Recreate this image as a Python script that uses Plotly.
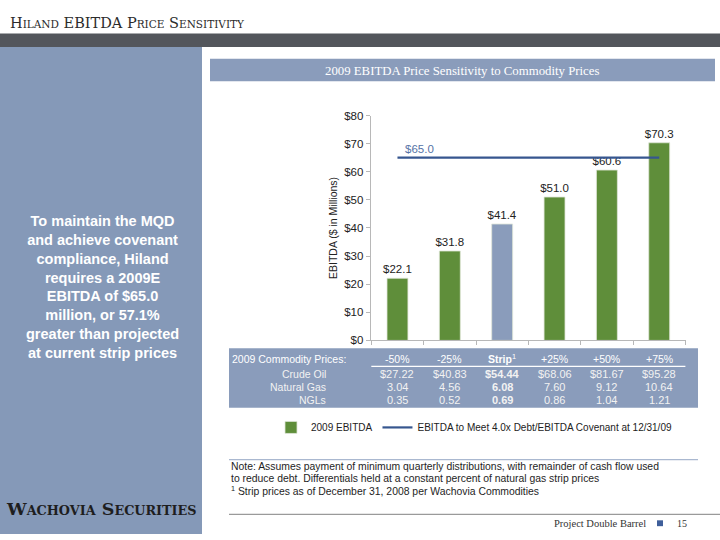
import plotly.graph_objects as go

# ---------------- data ----------------
categories = ["-50%", "-25%", "Strip", "+25%", "+50%", "+75%"]
ebitda = [22.1, 31.8, 41.4, 51.0, 60.6, 70.3]
covenant = 65.0
strip_index = 2
crude_oil = ["$27.22", "$40.83", "$54.44", "$68.06", "$81.67", "$95.28"]
natural_gas = ["3.04", "4.56", "6.08", "7.60", "9.12", "10.64"]
ngls = ["0.35", "0.52", "0.69", "0.86", "1.04", "1.21"]
row_labels = ["Crude Oil", "Natural Gas", "NGLs"]
y_ticks = [0, 10, 20, 30, 40, 50, 60, 70, 80]
y_tick_labels = ["$0", "$10", "$20", "$30", "$40", "$50", "$60", "$70", "$80"]

W, H = 720, 540
GREEN = "#5f8e3a"
BLUEGRAY = "#8a9cbb"
LINE_BLUE = "#36568f"
SANS = "Liberation Sans, Arial, sans-serif"
SERIF = "Liberation Serif, Times New Roman, serif"
WIDE_SERIF = "DejaVu Serif, serif"


def px(x):
    return x / W


def py(y):
    return 1 - y / H


def smallcaps(text, big, small):
    out = []
    run, run_small = "", None
    for ch in text:
        is_small = ch.islower()
        if run_small is None:
            run_small = is_small
        if is_small != run_small:
            out.append((run, run_small))
            run, run_small = "", is_small
        run += ch.upper()
    if run:
        out.append((run, run_small))
    html = ""
    for r, s in out:
        if s:
            html += f'<span style="font-size:{small}px">{r}</span>'
        else:
            html += r
    return html


bar_colors = [BLUEGRAY if i == strip_index else GREEN for i in range(len(categories))]

fig = go.Figure()
fig.add_trace(go.Bar(
    x=categories, y=ebitda, name="2009 EBITDA",
    marker=dict(color=bar_colors, line=dict(color="#dfe6d8", width=0.8)),
    width=0.4,
    text=[f"${v:.1f}" for v in ebitda], textposition="outside",
    constraintext="none",
    textfont=dict(family=SANS, size=11.5, color="#222"),
    cliponaxis=False,
))
fig.add_trace(go.Scatter(
    x=[categories[0], categories[-1]], y=[covenant, covenant], mode="lines",
    name="EBITDA to Meet 4.0x Debt/EBITDA Covenant at 12/31/09",
    line=dict(color=LINE_BLUE, width=2.2),
))

shapes = []
annotations = []

# background pieces
shapes.append(dict(type="rect", xref="paper", yref="paper", x0=0, x1=1,
                   y0=py(42), y1=py(28), fillcolor="#53565c", line_width=0, layer="below"))
shapes.append(dict(type="rect", xref="paper", yref="paper", x0=0, x1=px(202),
                   y0=0, y1=py(42), fillcolor="#8599b8", line_width=0, layer="below"))
shapes.append(dict(type="rect", xref="paper", yref="paper", x0=px(210), x1=px(715),
                   y0=py(77), y1=py(54), fillcolor=BLUEGRAY, line_width=0, layer="below"))
# table background
shapes.append(dict(type="rect", xref="paper", yref="paper", x0=px(229), x1=px(698),
                   y0=py(411), y1=py(350), fillcolor=BLUEGRAY, line_width=0, layer="below"))
# underline under table header
shapes.append(dict(type="line", xref="x", yref="paper", x0=-0.5, x1=len(categories) - 0.5,
                   y0=py(368.5), y1=py(368.5), line=dict(color="white", width=1.2)))
# separator lines
shapes.append(dict(type="line", xref="paper", yref="paper", x0=px(229), x1=px(698),
                   y0=py(464), y1=py(464), line=dict(color="#aab8d0", width=1.2)))
shapes.append(dict(type="line", xref="paper", yref="paper", x0=px(229), x1=1,
                   y0=py(520), y1=py(520), line=dict(color="#9a9a9a", width=1.2)))
# footer square
shapes.append(dict(type="rect", xref="paper", yref="paper", x0=px(657), x1=px(663),
                   y0=py(532), y1=py(526), fillcolor="#3f5f9a", line_width=0))

# title
annotations.append(dict(text=smallcaps("Hiland EBITDA Price Sensitivity", 14.5, 10.5),
                        xref="paper", yref="paper", x=px(8), y=py(17), xanchor="left",
                        yanchor="middle", showarrow=False,
                        font=dict(family=WIDE_SERIF, size=14.5, color="#2b2b2b")))
# logo
annotations.append(dict(text="<b>" + smallcaps("Wachovia Securities", 17.5, 12.8) + "</b>",
                        xref="paper", yref="paper", x=px(101), y=py(514), xanchor="center",
                        yanchor="middle", showarrow=False,
                        font=dict(family=WIDE_SERIF, size=17.5, color="#1e1e1e")))
# header box text
annotations.append(dict(text="2009 EBITDA Price Sensitivity to Commodity Prices",
                        xref="paper", yref="paper", x=px(462), y=py(66), xanchor="center",
                        yanchor="middle", showarrow=False,
                        font=dict(family=SERIF, size=12.8, color="white")))
# left panel text
left_lines = ["To maintain the MQD", "and achieve covenant", "compliance, Hiland",
              "requires a 2009E", "EBITDA of $65.0", "million, or 57.1%",
              "greater than projected", "at current strip prices"]
annotations.append(dict(text="<b>" + "<br>".join(left_lines) + "</b>",
                        xref="paper", yref="paper", x=px(102), y=py(287), xanchor="center",
                        yanchor="middle", showarrow=False, align="center",
                        font=dict(family=SANS, size=14.5, color="white")))

# covenant label
annotations.append(dict(text=f"${covenant:.1f}", xref="x", yref="y", x=categories[0], y=covenant,
                        xanchor="left", yanchor="middle", xshift=6, yshift=9, showarrow=False,
                        font=dict(family=SANS, size=11.5, color="#5573a6")))

# table
row_y = [376.5, 389.5, 403]
annotations.append(dict(text="2009 Commodity Prices:", xref="paper", yref="paper",
                        x=px(230), y=py(361), xanchor="left", yanchor="middle", showarrow=False,
                        font=dict(family=SANS, size=10.5, color="white")))
for lbl, yy in zip(row_labels, row_y):
    annotations.append(dict(text=lbl, xref="paper", yref="paper", x=px(328), y=py(yy),
                            xanchor="right", yanchor="middle", showarrow=False,
                            font=dict(family=SANS, size=10.5, color="#f2f2f2")))
for i, cat in enumerate(categories):
    bold = i == strip_index
    head = "<b>Strip</b><sup>1</sup>" if bold else cat
    annotations.append(dict(text=head, xref="x", yref="paper", x=cat, y=py(361),
                            xanchor="center", yanchor="middle", showarrow=False,
                            font=dict(family=SANS, size=10.5, color="white")))
    for vals, yy in zip([crude_oil, natural_gas, ngls], row_y):
        t = f"<b>{vals[i]}</b>" if bold else vals[i]
        annotations.append(dict(text=t, xref="x", yref="paper", x=cat, y=py(yy),
                                xanchor="center", yanchor="middle", showarrow=False,
                                font=dict(family=SANS, size=11, color="#f2f2f2")))

# notes
notes = [
    ("Note: Assumes payment of minimum quarterly distributions, with remainder of cash flow used", 471),
    ("to reduce debt. Differentials held at a constant percent of natural gas strip prices", 483.5),
    ("<sup>1</sup> Strip prices as of December 31, 2008 per Wachovia Commodities", 496),
]
for t, yy in notes:
    annotations.append(dict(text=t, xref="paper", yref="paper", x=px(229), y=py(yy),
                            xanchor="left", yanchor="middle", showarrow=False,
                            font=dict(family=SANS, size=10.4, color="#1e1e1e")))

# footer
annotations.append(dict(text="Project Double Barrel", xref="paper", yref="paper", x=px(648),
                        y=py(529), xanchor="right", yanchor="middle", showarrow=False,
                        font=dict(family=SERIF, size=10.5, color="#333")))
annotations.append(dict(text="15", xref="paper", yref="paper", x=px(675), y=py(529),
                        xanchor="left", yanchor="middle", showarrow=False,
                        font=dict(family=SERIF, size=10, color="#333")))

fig.update_layout(
    width=W, height=H, autosize=False,
    margin=dict(l=0, r=0, t=0, b=0),
    paper_bgcolor="white", plot_bgcolor="white",
    showlegend=True,
    legend=dict(orientation="h", x=px(474), xanchor="center", y=py(431), yanchor="middle",
                font=dict(family=SANS, size=10, color="#222"), bgcolor="rgba(0,0,0,0)",
                itemwidth=30),
    shapes=shapes, annotations=annotations,
    bargap=0.6,
)
fig.update_xaxes(domain=[px(370.7), px(686)], showticklabels=False, showgrid=False,
                 showline=True, linecolor="#b8b8b8", linewidth=1, ticks="outside",
                 tickson="boundaries", ticklen=4, tickcolor="#b8b8b8", zeroline=False)
fig.update_yaxes(domain=[py(342), py(112)], range=[0, 80], tickvals=y_ticks,
                 ticktext=y_tick_labels, showgrid=False, zeroline=False, showline=True,
                 linecolor="#b8b8b8", linewidth=1, ticks="outside", ticklen=4,
                 tickcolor="#b8b8b8", tickfont=dict(family=SANS, size=11.5, color="#222"),
                 title=dict(text="EBITDA ($ in Millions)", standoff=4,
                            font=dict(family=SANS, size=10.5, color="#222")))

fig.write_html("out.html", config={"displayModeBar": False},
               post_script="document.body.style.margin='0';")
